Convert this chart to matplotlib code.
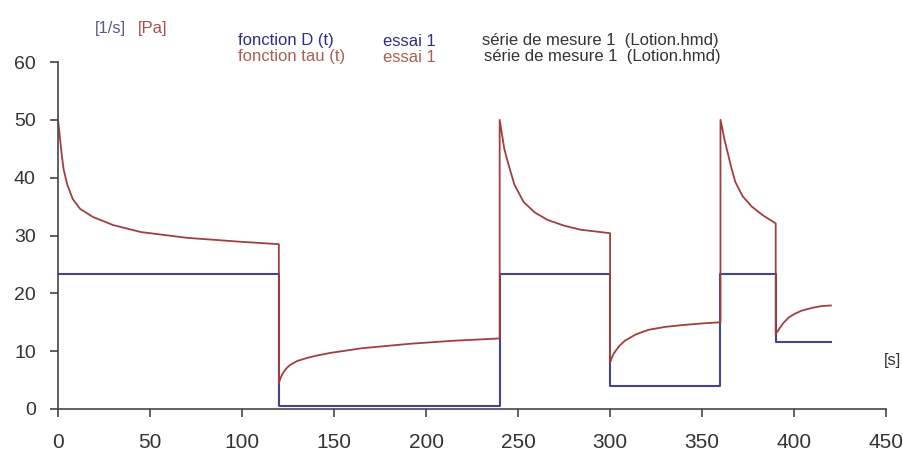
import numpy as np
import matplotlib
import matplotlib.pyplot as plt

matplotlib.rcParams['font.family'] = ['Liberation Sans', 'DejaVu Sans']

# shear rate D(t) [1/s] - step profile
t_D = [0, 120, 120, 240, 240, 300, 300, 360, 360, 390, 390, 420]
D = [23.3, 23.3, 0.5, 0.5, 23.3, 23.3, 4.0, 4.0, 23.3, 23.3, 11.6, 11.6]

# shear stress tau(t) [Pa]
t_tau = [0, 0.5, 1, 2, 3, 5, 8, 12, 19, 30, 45, 70, 100, 120,
         120, 121, 122, 124, 126, 130, 135, 140, 148, 165, 192, 215, 240,
         240, 241, 242.5, 244.5, 248, 253, 259, 266, 275, 284, 292, 300,
         300, 301, 302, 305, 308, 314, 321, 330, 339, 350, 360,
         360, 361, 362, 364, 366, 368, 372, 377, 383, 389.5, 390,
         390, 391, 392, 394, 397, 400, 404, 410, 415, 420]
tau = [50, 48.5, 47, 44, 41.5, 38.8, 36.3, 34.6, 33.2, 31.8, 30.6, 29.6, 28.9, 28.5,
       4.5, 5.4, 6.1, 7.0, 7.6, 8.3, 8.8, 9.2, 9.7, 10.5, 11.3, 11.8, 12.2,
       50, 48, 45, 42.6, 38.8, 35.8, 34.0, 32.7, 31.7, 31.0, 30.7, 30.4,
       8.0, 8.9, 9.6, 10.9, 11.8, 12.9, 13.7, 14.2, 14.5, 14.8, 15.0,
       50, 48.5, 46.8, 44.2, 41.6, 39.3, 36.8, 35.0, 33.5, 32.2, 32.1,
       13.0, 13.4, 13.9, 14.8, 15.8, 16.4, 17.0, 17.5, 17.8, 17.9]

x_ticks = [0, 50, 100, 150, 200, 250, 300, 350, 400, 450]
y_ticks = [0, 10, 20, 30, 40, 50, 60]

blue = '#45458a'
red = '#a23e3e'

fig = plt.figure(figsize=(9.04, 4.58), dpi=100)
ax = fig.add_axes([0.0642, 0.107, 0.916, 0.7576])

ax.plot(t_D, D, color=blue, lw=1.5)
ax.plot(t_tau, tau, color=red, lw=1.3)

ax.set_xlim(0, 450)
ax.set_ylim(0, 60)
ax.set_xticks(x_ticks)
ax.set_yticks(y_ticks)

for side in ['top', 'right']:
    ax.spines[side].set_visible(False)
for side in ['left', 'bottom']:
    ax.spines[side].set_color('#444444')
    ax.spines[side].set_linewidth(1.2)

ax.tick_params(axis='y', direction='out', length=6, width=1.2, color='#444444',
               pad=10, labelsize=14, labelcolor='#333333')
ax.tick_params(axis='x', direction='out', length=6, width=1.2, color='#444444',
               pad=11, labelsize=15, labelcolor='#333333')


# header labels, placed in pixel positions of the figure
def ftext(x, y, s, **kw):
    fig.text(x / 904, 1 - y / 458, s, va='center', ha='left', **kw)


ftext(95, 29, '[1/s]', color='#5a5a90', fontsize=12)
ftext(138, 29, '[Pa]', color='#a05050', fontsize=12)
ftext(238, 41, 'fonction D (t)', color='#2e2e8a', fontsize=12)
ftext(383, 41, 'essai 1', color='#2e2e8a', fontsize=12)
ftext(482, 41, 'série de mesure 1  (Lotion.hmd)', color='#333333', fontsize=12)
ftext(238, 57, 'fonction tau (t)', color='#a86050', fontsize=12)
ftext(383, 57, 'essai 1', color='#a86050', fontsize=12)
ftext(484, 57, 'série de mesure 1  (Lotion.hmd)', color='#333333', fontsize=12)
ftext(884, 360, '[s]', color='#333333', fontsize=12)

fig.savefig('out.png', dpi=100)
